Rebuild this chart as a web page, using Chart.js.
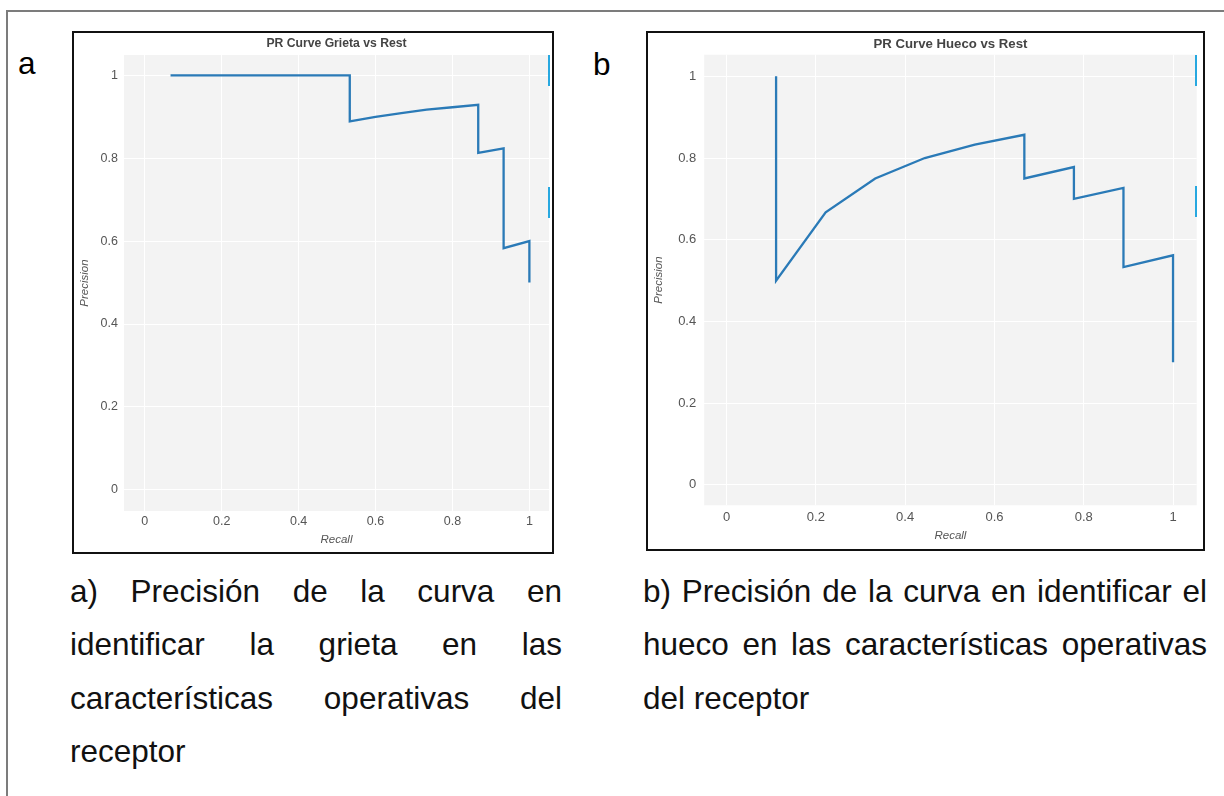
<!DOCTYPE html>
<html lang="es">
<head>
<meta charset="utf-8">
<title>PR Curves</title>
<script src="https://cdn.jsdelivr.net/npm/chart.js@4.4.1/dist/chart.umd.min.js"></script>
<style>
  html, body { margin: 0; padding: 0; background: #fff; }
  body { width: 1224px; height: 796px; position: relative; overflow: hidden;
         font-family: "Liberation Sans", Arial, sans-serif; color: #000; }
  .frame { position: absolute; left: 6px; top: 10px; width: 1400px; height: 900px;
           border-top: 2px solid #7c7c7c; border-left: 2px solid #7c7c7c; }
  .box { position: absolute; border: 2px solid #111; background: #fff; }
  .box canvas { position: absolute; left: 0; top: 0; }
  .tag { position: absolute; font-size: 31.5px; line-height: 1; }
  .caption { position: absolute; font-size: 31.5px; line-height: 53.3px;
             text-align: justify; color: #111; }
  .marker { position: absolute; width: 2px; background: #27a8e0; }
</style>
</head>
<body>
<div class="frame"></div>

<div class="tag" style="left:18px; top:48px;">a</div>
<div class="tag" style="left:593px; top:49px;">b</div>

<div class="box" id="boxA" style="left:72px; top:31px; width:478px; height:519px;">
  <canvas id="chartA" width="478" height="519"></canvas>
</div>
<div class="box" id="boxB" style="left:646px; top:31px; width:555px; height:516px;">
  <canvas id="chartB" width="555" height="516"></canvas>
</div>

<!-- small scrollbar-like ticks at the right edge of each plot -->
<div class="marker" style="left:548px; top:55px; height:31px;"></div>
<div class="marker" style="left:548px; top:187px; height:31px;"></div>
<div class="marker" style="left:1195px; top:55px; height:31px;"></div>
<div class="marker" style="left:1195px; top:186px; height:31px;"></div>

<div class="caption" style="left:70px; top:565px; width:492px;">a) Precisión de la curva en identificar la grieta en las características operativas del receptor</div>
<div class="caption" style="left:643px; top:565px; width:564px;">b) Precisión de la curva en identificar el hueco en las características operativas del receptor</div>

<script>
// Precision-recall points, class "Grieta" against the rest
const recallGrieta    = [0.067, 0.533, 0.533, 0.600, 0.667, 0.733, 0.800, 0.867, 0.867, 0.933, 0.933, 1.000, 1.000];
const precisionGrieta = [1.000, 1.000, 0.889, 0.900, 0.909, 0.917, 0.923, 0.929, 0.813, 0.824, 0.583, 0.600, 0.500];

// Precision-recall points, class "Hueco" against the rest
const recallHueco    = [0.111, 0.111, 0.222, 0.333, 0.444, 0.556, 0.667, 0.667, 0.778, 0.778, 0.889, 0.889, 1.000, 1.000];
const precisionHueco = [1.000, 0.500, 0.667, 0.750, 0.800, 0.833, 0.857, 0.750, 0.778, 0.700, 0.727, 0.533, 0.562, 0.300];

// Shared axis ticks
const tickValues = [0, 0.2, 0.4, 0.6, 0.8, 1];
const tickLabels = ['0', '0.2', '0.4', '0.6', '0.8', '1'];

const FONT = '"Liberation Sans", Arial, sans-serif';
const LINE_COLOR = '#2a7ab7';

// Fills the plotting area and writes the title centred over it
const panelPlugin = {
  id: 'panel',
  beforeDraw(chart, args, opts) {
    const {ctx, chartArea: a} = chart;
    ctx.save();
    ctx.fillStyle = opts.background;
    ctx.fillRect(a.left, a.top, a.right - a.left, a.bottom - a.top);
    ctx.restore();
  },
  afterDraw(chart, args, opts) {
    const {ctx, chartArea: a} = chart;
    ctx.save();
    ctx.font = 'bold ' + opts.titleSize + 'px ' + FONT;
    ctx.fillStyle = '#444';
    ctx.textAlign = 'center';
    ctx.textBaseline = 'middle';
    ctx.fillText(opts.title, (a.left + a.right) / 2, opts.titleY);
    ctx.restore();
  }
};

function toPoints(xs, ys) {
  return xs.map((x, i) => ({x: x, y: ys[i]}));
}

function makeChart(id, cfg) {
  const tickFont = {family: FONT, size: cfg.tickSize};
  const titleFont = {family: FONT, size: 11.5, style: 'italic'};
  return new Chart(document.getElementById(id), {
    type: 'scatter',
    data: {
      datasets: [{
        data: toPoints(cfg.recall, cfg.precision),
        showLine: true,
        borderColor: LINE_COLOR,
        backgroundColor: LINE_COLOR,
        borderWidth: 2.3,
        pointRadius: 0,
        pointHoverRadius: 0,
        tension: 0
      }]
    },
    options: {
      responsive: false,
      animation: false,
      events: [],
      layout: {padding: {top: cfg.padTop, right: cfg.padRight, bottom: 0, left: 0}},
      plugins: {
        legend: {display: false},
        tooltip: {enabled: false},
        title: {display: false},
        panel: {background: '#f3f3f3', title: cfg.title, titleY: cfg.titleY, titleSize: cfg.titleSize}
      },
      scales: {
        x: {
          type: 'linear',
          min: cfg.xMin, max: cfg.xMax,
          afterBuildTicks: s => { s.ticks = tickValues.map(v => ({value: v})); },
          afterFit: s => { s.height = cfg.xHeight; },
          ticks: {
            callback: (v, i) => tickLabels[i],
            autoSkip: false, maxRotation: 0,
            padding: cfg.xTickPad, color: '#555', font: tickFont
          },
          grid: {color: '#ffffff', lineWidth: 1, drawTicks: false},
          border: {display: false},
          title: {display: true, text: 'Recall', color: '#555', font: titleFont,
                  padding: {top: 0, bottom: cfg.xTitlePad}}
        },
        y: {
          type: 'linear',
          min: cfg.yMin, max: cfg.yMax,
          afterBuildTicks: s => { s.ticks = tickValues.map(v => ({value: v})); },
          afterFit: s => { s.width = cfg.yWidth; },
          ticks: {
            callback: (v, i) => tickLabels[i],
            autoSkip: false,
            padding: cfg.yTickPad, color: '#555', font: tickFont
          },
          grid: {color: '#ffffff', lineWidth: 1, drawTicks: false},
          border: {display: false},
          title: {display: true, text: 'Precision', color: '#555', font: titleFont,
                  padding: {top: 4, bottom: 0}}
        }
      }
    },
    plugins: [panelPlugin]
  });
}

makeChart('chartA', {
  recall: recallGrieta, precision: precisionGrieta,
  title: 'PR Curve Grieta vs Rest', titleY: 11, titleSize: 12.2,
  xMin: -0.054, xMax: 1.051, yMin: -0.051, yMax: 1.049,
  padTop: 22, padRight: 3, xHeight: 41, yWidth: 50,
  tickSize: 12.5, xTickPad: 3.5, yTickPad: 6, xTitlePad: 5
});

makeChart('chartB', {
  recall: recallHueco, precision: precisionHueco,
  title: 'PR Curve Hueco vs Rest', titleY: 11.7, titleSize: 13.2,
  xMin: -0.05, xMax: 1.053, yMin: -0.05, yMax: 1.053,
  padTop: 21.7, padRight: 6.3, xHeight: 43.7, yWidth: 56.2,
  tickSize: 13, xTickPad: 4.5, yTickPad: 8, xTitlePad: 6
});
</script>
</body>
</html>
